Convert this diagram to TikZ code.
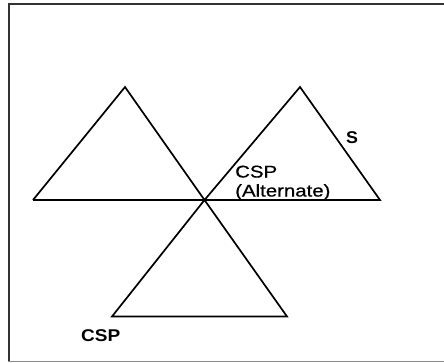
\documentclass[tikz,border=0pt]{standalone}
\usepackage{fontspec}
\setmainfont{Liberation Sans}
\begin{document}
\begin{tikzpicture}[x=1pt,y=-1pt,
  edge/.style={line width=1.7pt, line join=miter},
  frame/.style={line width=2pt, draw=black!80},
  lbl/.style={inner sep=0pt, font=\fontsize{17}{19}\selectfont}]
\useasboundingbox (0,0) rectangle (444,362);
% frame
\draw[frame] (8.5,362) -- (8.5,3.5) -- (446,3.5);
\draw[line width=1pt, draw=black!45] (8,361) -- (446,361);
% vertices
\coordinate (LA) at (125,87);
\coordinate (RA) at (300,87);
\coordinate (BL) at (33,200);
\coordinate (BR) at (380,200);
\coordinate (C) at (204.5,200);
\coordinate (DL) at (112,316.5);
\coordinate (DR) at (287,316.5);
% lines
\draw[edge] (BL) -- (LA) -- (C) -- (DR) -- (DL) -- (C) -- (RA) -- (BR) -- (BL);
% labels
\node[lbl, anchor=base west] (s) at (346,143) {\scalebox{1.05}[1]{\textbf{S}}};
\node[lbl, anchor=base west] (alt1) at (235,177.5) {\scalebox{1.2}[1]{\addfontfeature{FakeBold=0.6}CSP}};
\node[lbl, anchor=base west] (alt2) at (235,196.5) {\scalebox{1.2}[1]{\addfontfeature{FakeBold=0.6}(Alternate)}};
\node[lbl, anchor=base west] (csp) at (81,341) {\scalebox{1.12}[1]{\textbf{CSP}}};
\end{tikzpicture}
\end{document}
